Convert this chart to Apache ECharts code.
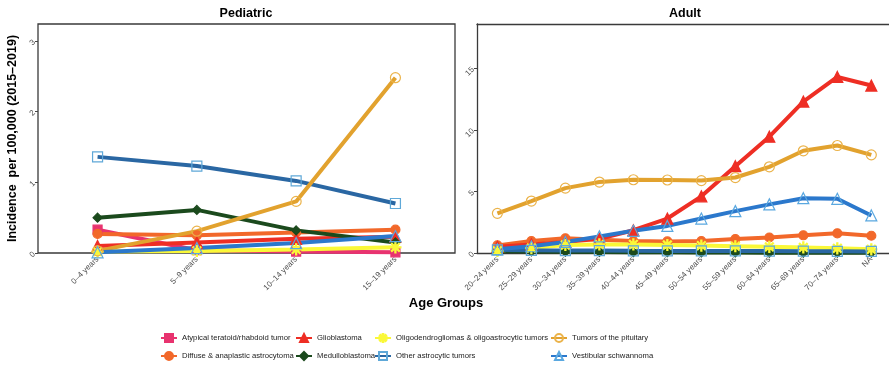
<!DOCTYPE html>
<html><head><meta charset="utf-8">
<script src="https://cdn.jsdelivr.net/npm/echarts@6/dist/echarts.min.js"></script>
<style>html,body{margin:0;padding:0;background:#fff}#c{width:889px;height:366px}</style>
</head><body><div id="c"></div>
<script>
const pedCategories = ['0–4 years','5–9 years','10–14 years','15–19 years'];
const adultCategories = ['20–24 years','25–29 years','30–34 years','35–39 years','40–44 years','45–49 years','50–54 years','55–59 years','60–64 years','65–69 years','70–74 years','NA'];
const pedTicks = [0,1,2,3];
const adultTicks = [0,5,10,15];

const pedAtypical     = [0.33,0.04,0.02,0.01];
const pedDiffuse      = [0.27,0.25,0.29,0.33];
const pedGlioblastoma = [0.10,0.15,0.20,0.23];
const pedMedullo      = [0.50,0.61,0.32,0.15];
const pedOligo        = [0.02,0.03,0.05,0.08];
const pedOther        = [1.36,1.23,1.02,0.70];
const pedPituitary    = [0.03,0.31,0.73,2.48];
const pedVestibular   = [0.01,0.07,0.14,0.24];

const adultAtypical     = [null,null,null,null,null,null,null,null,null,null,null,null];
const adultDiffuse      = [0.62,0.97,1.19,1.07,0.97,0.94,0.97,1.13,1.26,1.44,1.60,1.40];
const adultGlioblastoma = [0.50,0.70,0.90,1.15,1.85,2.80,4.60,7.05,9.45,12.30,14.30,13.60];
const adultMedullo      = [0.15,0.12,0.10,0.08,0.07,0.06,0.05,0.04,0.03,0.03,0.02,0.02];
const adultOligo        = [0.18,0.40,0.65,0.70,0.70,0.65,0.60,0.55,0.50,0.45,0.38,0.30];
const adultOther        = [0.25,0.22,0.20,0.20,0.18,0.17,0.17,0.17,0.16,0.15,0.14,0.13];
const adultPituitary    = [3.22,4.22,5.27,5.76,5.95,5.93,5.88,6.13,7.00,8.30,8.73,7.97];
const adultVestibular   = [0.30,0.55,0.90,1.35,1.80,2.20,2.80,3.40,3.95,4.45,4.40,3.05];

const asterisk = 'path://M9,0h2v20h-2z M0,9h20v2h-20z M2.2,3.6l1.4,-1.4l14.2,14.2l-1.4,1.4z M16.4,2.2l1.4,1.4l-14.2,14.2l-1.4,-1.4z';

const styles = [
  {name:'Atypical teratoid/rhabdoid tumor', ped:pedAtypical, adult:adultAtypical, line:'#E8336F', symbol:'rect', size:9, fill:'#E8336F', border:'#E8336F'},
  {name:'Diffuse & anaplastic astrocytoma', ped:pedDiffuse, adult:adultDiffuse, line:'#F2682A', symbol:'circle', size:9, fill:'#F2682A', border:'#F2682A'},
  {name:'Glioblastoma', ped:pedGlioblastoma, adult:adultGlioblastoma, line:'#EE2E24', symbol:'triangle', size:11, fill:'#EE2E24', border:'#EE2E24'},
  {name:'Medulloblastoma', ped:pedMedullo, adult:adultMedullo, line:'#1B4A1D', symbol:'diamond', size:9, fill:'#1B4A1D', border:'#1B4A1D'},
  {name:'Oligodendrogliomas & oligoastrocytic tumors', ped:pedOligo, adult:adultOligo, line:'#FAF838', symbol:asterisk, size:11, fill:'#FAF838', border:'#FAF838'},
  {name:'Other astrocytic tumors', ped:pedOther, adult:adultOther, line:'#2A67A3', symbol:'rect', size:10, fill:'rgba(255,255,255,0)', border:'#5FA8D8'},
  {name:'Tumors of the pituitary', ped:pedPituitary, adult:adultPituitary, line:'#E2A22E', symbol:'circle', size:10, fill:'rgba(255,255,255,0)', border:'#EBB34A'},
  {name:'Vestibular schwannoma', ped:pedVestibular, adult:adultVestibular, line:'#2B78CC', symbol:'triangle', size:11, fill:'rgba(255,255,255,0)', border:'#5AA8E0'}
];

const series = [];
styles.forEach(s => {
  [['ped',0],['adult',1]].forEach(([key, gi]) => {
    series.push({
      name: s.name, type: 'line', xAxisIndex: gi, yAxisIndex: gi,
      data: s[key].map((v,i) => [i, v]),
      symbol: s.symbol, symbolSize: s.size, showAllSymbol: true,
      lineStyle: {color: s.line, width: 4},
      itemStyle: {color: s.fill, borderColor: s.border, borderWidth: 1.2},
      connectNulls: false, animation: false
    });
  });
});

const font = '"Liberation Sans", Arial, sans-serif';
const frameLine = {show: true, onZero: false, lineStyle: {color: '#3a3a3a', width: 1.3}};
function xAx(gi, cats, maxPad, showLine) {
  const idx = cats.map((c,i) => i);
  return {type:'value', gridIndex: gi, min: -0.6, max: cats.length - 1 + maxPad,
    splitLine:{show:false}, axisLine: showLine ? frameLine : {show:false, onZero:false},
    axisTick:{show:true, customValues: idx, length: 3, lineStyle:{color:'#444'}},
    axisLabel:{customValues: idx, formatter: v => cats[Math.round(v)], rotate: 45, fontSize: 8, color:'#4d4d4d', margin: 5, fontFamily: font}};
}
function yAx(gi, max, ticks, showLine, extra) {
  return Object.assign({type:'value', gridIndex: gi, min: 0, max: max,
    splitLine:{show:false}, axisLine: showLine ? frameLine : {show:false, onZero:false},
    axisTick:{show:true, customValues: ticks, length: 3, lineStyle:{color:'#444'}},
    axisLabel:{customValues: ticks, rotate: 45, fontSize: 8, color:'#4d4d4d', margin: 4, fontFamily: font}}, extra || {});
}

const chart = echarts.init(document.getElementById('c'), null, {renderer:'canvas'});
chart.setOption({
  animation: false,
  backgroundColor: '#fff',
  grid: [
    {left: 38, top: 24, width: 417, height: 229, show: true, borderColor: '#3a3a3a', borderWidth: 1.3},
    {left: 477, top: 24, right: 0, height: 229, show: false}
  ],
  xAxis: [
    xAx(0, pedCategories, 0.6, false),
    xAx(1, adultCategories, 0.52, true),
    {type:'value', gridIndex: 1, position: 'top', min: 0, max: 1, axisLine: frameLine,
     axisTick:{show:false}, axisLabel:{show:false}, splitLine:{show:false}}
  ],
  yAxis: [
    yAx(0, 3.24, pedTicks, false, {name: 'Incidence  per 100,000 (2015–2019)', nameLocation: 'middle', nameGap: 19, nameRotate: 90,
      nameTextStyle: {fontSize: 12.5, fontWeight: 'bold', color: '#000', fontFamily: font}}),
    yAx(1, 18.6, adultTicks, true)
  ],
  graphic: [
    {type:'text', x: 246, y: 7, style:{text:'Pediatric', font:'bold 12.5px ' + font, fill:'#000', textAlign:'center'}},
    {type:'text', x: 685, y: 7, style:{text:'Adult', font:'bold 12.5px ' + font, fill:'#000', textAlign:'center'}},
    {type:'text', x: 446, y: 297, style:{text:'Age Groups', font:'bold 13px ' + font, fill:'#000', textAlign:'center'}}
  ],
  legend: [
    {left:160, data:[styles[0].name, styles[1].name]},
    {left:295, data:[styles[2].name, styles[3].name]},
    {left:374, data:[styles[4].name, styles[5].name]},
    {left:550, data:[styles[6].name, styles[7].name]}
  ].map(l => Object.assign({top: 333, orient:'vertical', itemGap: 8, itemWidth: 16, itemHeight: 10, padding: 0,
      textStyle:{fontSize: 7.7, color:'#222', fontFamily: font}}, l)),
  series: series
});
</script></body></html>
